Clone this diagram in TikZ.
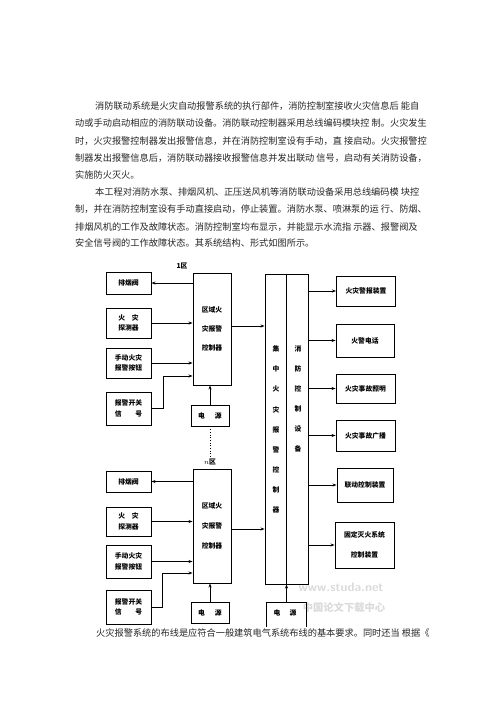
\documentclass[tikz,border=0pt]{standalone}
\usepackage{fontspec}
\newfontfamily\cjk{Noto Sans CJK SC}
\usetikzlibrary{arrows.meta,calc}
\begin{document}
\begin{tikzpicture}[x=1pt,y=-1pt,
  body/.style={anchor=west,inner sep=0pt,font=\cjk\fontsize{9.2}{11}\selectfont,text=black!85},
  box/.style={draw,line width=0.9pt,inner sep=0pt,align=center,font=\cjk\bfseries\fontsize{6.8}{10.5}\selectfont},
  lbl/.style={inner sep=0pt,font=\cjk\bfseries\fontsize{6.8}{10.5}\selectfont,align=center},
  arr/.style={line width=0.7pt,-{Stealth[length=4pt,width=3pt]}},
  wm/.style={inner sep=0pt,text=gray!28,font=\cjk\bfseries}
]
\useasboundingbox (0,0) rectangle (500,708);
\fill[white] (0,0) rectangle (500,708);

% body text
\node[body] (t1) at (95,106) {消防联动系统是火灾自动报警系统的执行部件，消防控制室接收火灾信息后 能自};
\node[body] (t2) at (75,123) {动或手动启动相应的消防联动设备。消防联动控制器采用总线编码模块控 制。火灾发生};
\node[body] (t3) at (75,141) {时，火灾报警控制器发出报警信息，并在消防控制室设有手动，直 接启动。火灾报警控};
\node[body] (t4) at (75,158) {制器发出报警信息后，消防联动器接收报警信息并发出联动 信号，启动有关消防设备，};
\node[body] (t5) at (75,175) {实施防火灭火。};
\node[body] (t6) at (95,192) {本工程对消防水泵、排烟风机、正压送风机等消防联动设备采用总线编码模 块控};
\node[body] (t7) at (75,209) {制，并在消防控制室设有手动直接启动，停止装置。消防水泵、喷淋泵的运 行、防烟、};
\node[body] (t8) at (75,227) {排烟风机的工作及故障状态。消防控制室均布显示，并能显示水流指 示器、报警阀及};
\node[body] (t9) at (75,243) {安全信号阀的工作故障状态。其系统结构、形式如图所示。};
\node[body] (t10) at (96,633) {火灾报警系统的布线是应符合一般建筑电气系统布线的基本要求。同时还当 根据《};

% watermark
\node[wm,font=\sffamily\bfseries\fontsize{12.5}{13}\selectfont] (w1) at (341,587) {www.studa.net};
\node[wm,font=\cjk\bfseries\fontsize{10.3}{11}\selectfont] (w2) at (344,608) {中国论文下载中心};

% zone 1 left boxes
\node[box,minimum width=45,minimum height=22] (A1) at (128.5,283) {排烟阀};
\node[box,minimum width=45,minimum height=30] (B1) at (128.5,323) {火\hspace{6.8pt}灾\\探测器};
\node[box,minimum width=45,minimum height=30] (C1) at (128.5,363) {手动火灾\\报警按钮};
\node[box,minimum width=45,minimum height=33] (D1) at (128.5,408.5) {报警开关\\信\hspace{13.6pt}号};
% zone 2 left boxes
\node[box,minimum width=45,minimum height=21] (A2) at (128.5,481.5) {排烟阀};
\node[box,minimum width=45,minimum height=29] (B2) at (128.5,521.5) {火\hspace{6.8pt}灾\\探测器};
\node[box,minimum width=45,minimum height=33] (C2) at (128.5,561.5) {手动火灾\\报警按钮};
\node[box,minimum width=45,minimum height=34] (D2) at (128.5,607) {报警开关\\信\hspace{13.6pt}号};

% zone controllers
\node[box,minimum width=38,minimum height=112,font=\cjk\bfseries\fontsize{6.8}{19}\selectfont] (Z1) at (212,329) {区域火\\灾报警\\控制器};
\node[box,minimum width=38,minimum height=114,font=\cjk\bfseries\fontsize{6.8}{20}\selectfont] (Z2) at (212,526) {区域火\\灾报警\\控制器};
\node[box,minimum width=38,minimum height=21] (P1) at (210,415.5) {电\hspace{10pt}源};
\node[box,minimum width=38,minimum height=21] (P2) at (210,612.5) {电\hspace{10pt}源};
\node[lbl] (L1) at (182,266) {1区};
\node[lbl] (L2) at (210,462) {$n$区};

% central controller
\node[draw,line width=0.9pt,minimum width=43,minimum height=310,inner sep=0pt] (Cen) at (286.5,429) {};
\draw[line width=0.9pt] (Cen.north) -- (Cen.south);
\node[lbl,font=\cjk\bfseries\fontsize{6.8}{20.1}\selectfont] (CL) at (276,429.5) {集\\中\\火\\灾\\报\\警\\控\\制\\器};
\node[lbl,font=\cjk\bfseries\fontsize{6.8}{20.1}\selectfont] (CR) at (298,399) {消\\防\\控\\制\\设\\备};

% central power (open bottom)
\coordinate (P3a) at (266,627);
\coordinate (P3b) at (266,602);
\coordinate (P3c) at (306,602);
\coordinate (P3d) at (306,627);
\draw[line width=0.9pt] (P3a) -- (P3b) -- (P3c) -- (P3d);
\node[lbl] (P3) at (285,613) {电\hspace{9pt}源};

% right boxes
\node[box,minimum width=59,minimum height=30] (R1) at (366,291) {火灾警报装置};
\node[box,minimum width=58,minimum height=33] (R2) at (365,340.5) {火警电话};
\node[box,minimum width=59,minimum height=29] (R3) at (365.5,388.5) {火灾事故照明};
\node[box,minimum width=59,minimum height=31] (R4) at (365.5,435.5) {火灾事故广播};
\node[box,minimum width=56,minimum height=34] (R5) at (365,485) {联动控制装置};
\node[box,minimum width=59,minimum height=46,font=\cjk\bfseries\fontsize{6.8}{20}\selectfont] (R6) at (364.5,545) {固定灭火系统\\控制装置};

% left connectors zone 1
\draw[arr] (Z1.west |- A1.east) -- (A1.east);
\draw[arr] (B1.east) -- (B1.east -| Z1.west);
\draw[arr] (C1.east) -- (C1.east -| Z1.west);
\coordinate (e1) at (163,376);
\draw[arr] (D1.east) -| (e1) -- (e1 -| Z1.west);
\draw[arr] (P1.north) -- (P1.north |- Z1.south);
\draw[line width=0.7pt,dotted] (P1.south) -- (L2.north);
% left connectors zone 2
\draw[arr] (Z2.west |- A2.east) -- (A2.east);
\draw[arr] (B2.east) -- (B2.east -| Z2.west);
\draw[arr] (C2.east) -- (C2.east -| Z2.west);
\coordinate (e2) at (162,573);
\draw[arr] (D2.east) -| (e2) -- (e2 -| Z2.west);
\draw[arr] (P2.north) -- (P2.north |- Z2.south);

% zone to central
\coordinate (z1o) at (231,326);
\coordinate (z2o) at (231,529);
\draw[arr] (z1o) -- (z1o -| Cen.west);
\draw[arr] (z2o) -- (z2o -| Cen.west);
% central power to central
\draw[arr] (P3b -| Cen.center) -- (Cen.south);

% central to right boxes
\draw[arr] (Cen.east |- R1.west) -- (R1.west);
\draw[arr] (Cen.east |- R2.west) -- (R2.west);
\draw[arr] (Cen.east |- R3.west) -- (R3.west);
\draw[arr] (Cen.east |- R4.west) -- (R4.west);
\draw[arr] (Cen.east |- R5.west) -- (R5.west);
\draw[arr] (Cen.east |- R6.west) -- (R6.west);
\end{tikzpicture}
\end{document}
